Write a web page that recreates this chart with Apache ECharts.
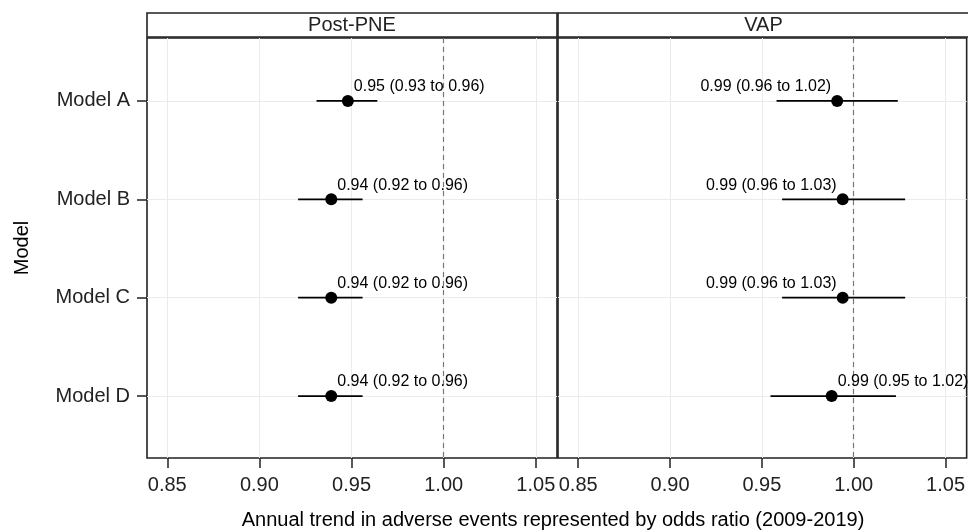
<!DOCTYPE html>
<html>
<head>
<meta charset="utf-8">
<script src="https://cdn.jsdelivr.net/npm/echarts@6/dist/echarts.min.js"></script>
<style>
  html, body { margin: 0; padding: 0; background: #fff; }
  #chart { width: 968px; height: 530px; }
</style>
</head>
<body>
<div id="chart"></div>
<script>
// data
const models = ['Model A', 'Model B', 'Model C', 'Model D']
const panels = ['Post-PNE', 'VAP']
const xTicks = [0.85, 0.90, 0.95, 1.00, 1.05]
const refValue = 1

const pneOr = [0.948, 0.939, 0.939, 0.939]
const pneLo = [0.931, 0.921, 0.921, 0.921]
const pneHi = [0.964, 0.956, 0.956, 0.956]

const vapOr = [0.991, 0.994, 0.994, 0.988]
const vapLo = [0.958, 0.961, 0.961, 0.9547]
const vapHi = [1.024, 1.028, 1.028, 1.023]

// label side per row (style, not data)
const pneSide = ['right', 'right', 'right', 'right']
const vapSide = ['left', 'left', 'left', 'right']

const font = "'Liberation Sans', Arial, sans-serif"
const frame = '#222'
const gridColor = '#ebebeb'

// panel layout
const panelTop = 38, panelHeight = 420
const lefts = [147, 558]
const widths = [410, 411]

const chart = echarts.init(document.getElementById('chart'))

const panelData = [
  { or: pneOr, lo: pneLo, hi: pneHi, side: pneSide },
  { or: vapOr, lo: vapLo, hi: vapHi, side: vapSide }
]

const fmt = v => v.toFixed(2)

const grids = lefts.map((l, i) => ({
  left: l, top: panelTop, width: widths[i], height: panelHeight,
  show: true, borderColor: frame, borderWidth: 1.6, backgroundColor: '#fff'
}))

const xAxes = panels.map((p, i) => ({
  gridIndex: i,
  type: 'value',
  min: 0.839,
  max: 1.0615,
  axisLine: { show: false },
  axisTick: { show: true, length: 10, customValues: xTicks, lineStyle: { color: frame, width: 1.5 } },
  axisLabel: { customValues: xTicks, formatter: fmt, fontSize: 20, color: '#222', margin: 17, fontFamily: font },
  splitLine: { show: true, lineStyle: { color: gridColor, width: 1 } }
}))

const yAxes = panels.map((p, i) => ({
  gridIndex: i,
  type: 'value',
  min: 0.36,
  max: 4.63,
  inverse: true,
  axisLine: { show: false },
  axisTick: { show: i === 0, length: 10, customValues: [1, 2, 3, 4], lineStyle: { color: frame, width: 1.5 } },
  axisLabel: {
    show: i === 0, customValues: [1, 2, 3, 4], formatter: v => models[v - 1] || '',
    fontSize: 20, color: '#222', margin: 17, fontFamily: font
  },
  splitLine: { show: true, lineStyle: { color: gridColor, width: 1 } },
  name: i === 0 ? 'Model' : '',
  nameLocation: 'middle',
  nameGap: 115,
  nameTextStyle: { fontSize: 20, color: '#000', fontFamily: font }
}))

const series = []
panelData.forEach((d, i) => {
  // error bars
  series.push({
    type: 'custom',
    xAxisIndex: i,
    yAxisIndex: i,
    encode: { x: [0, 1], y: 2 },
    data: models.map((m, k) => [d.lo[k], d.hi[k], k + 1]),
    renderItem(params, api) {
      const a = api.coord([api.value(0), api.value(2)])
      const b = api.coord([api.value(1), api.value(2)])
      return {
        type: 'line',
        shape: { x1: a[0], y1: a[1], x2: b[0], y2: b[1] },
        style: { stroke: '#000', lineWidth: 1.7 }
      }
    },
    z: 3
  })
  // points + labels
  series.push({
    type: 'scatter',
    xAxisIndex: i,
    yAxisIndex: i,
    symbolSize: 12,
    itemStyle: { color: '#000', opacity: 1 },
    data: models.map((m, k) => ({
      value: [d.or[k], k + 1],
      label: { position: d.side[k] }
    })),
    label: {
      show: true,
      distance: 0,
      offset: [0, -14],
      fontSize: 16,
      color: '#000',
      fontFamily: font,
      formatter: p => {
        const k = p.dataIndex
        return fmt(d.or[k]) + ' (' + fmt(d.lo[k]) + ' to ' + fmt(d.hi[k]) + ')'
      }
    },
    markLine: {
      silent: true,
      symbol: 'none',
      label: { show: false },
      lineStyle: { color: '#777', width: 1.2, type: [5, 4] },
      data: [{ xAxis: refValue }],
      z: 2
    },
    z: 4
  })
})

const strips = panels.map((p, i) => ({
  type: 'group',
  children: [
    {
      type: 'rect',
      shape: { x: lefts[i], y: 13, width: widths[i], height: 24 },
      style: { fill: '#fff', stroke: frame, lineWidth: 1.6 }
    },
    {
      type: 'text',
      x: lefts[i] + widths[i] / 2,
      y: 25,
      style: { text: p, fontSize: 20, fontFamily: font, fill: '#222', align: 'center', verticalAlign: 'middle' }
    }
  ]
}))

chart.setOption({
  animation: false,
  grid: grids,
  xAxis: xAxes,
  yAxis: yAxes,
  series: series,
  graphic: strips.concat([{
    type: 'text',
    x: 553,
    y: 520,
    style: {
      text: 'Annual trend in adverse events represented by odds ratio (2009-2019)',
      fontSize: 20, fontFamily: font, fill: '#000', align: 'center', verticalAlign: 'middle'
    }
  }])
})
</script>
</body>
</html>
